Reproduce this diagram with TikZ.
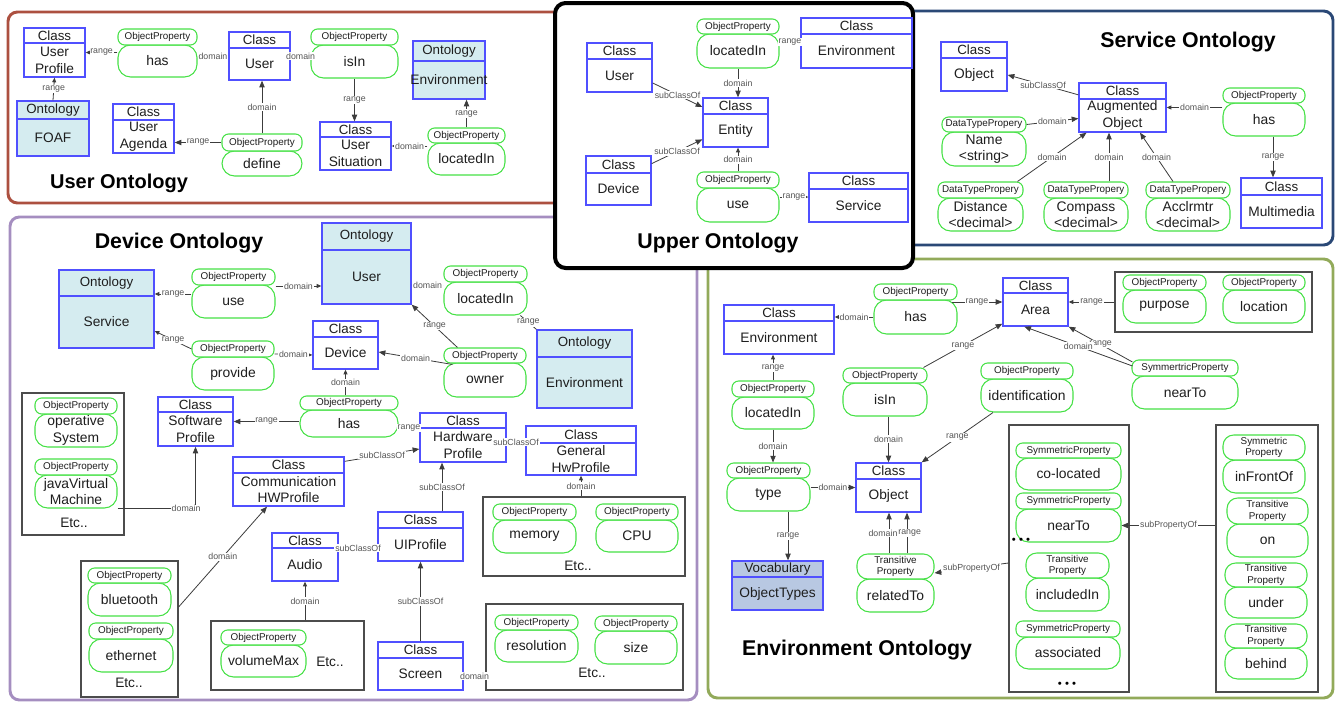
\documentclass[tikz,border=0pt]{standalone}
\usepackage{fontspec}
\setmainfont{Liberation Sans}
\usetikzlibrary{arrows.meta,fit,calc}
\definecolor{clsblue}{RGB}{80,80,255}
\definecolor{pgreen}{RGB}{70,225,70}
\definecolor{ontfill}{RGB}{213,236,240}
\definecolor{vocfill}{RGB}{184,200,226}
\definecolor{userfr}{RGB}{172,80,64}
\definecolor{servfr}{RGB}{42,72,118}
\definecolor{devfr}{RGB}{165,142,192}
\definecolor{envfr}{RGB}{146,170,90}
\definecolor{edgec}{RGB}{60,60,60}
\definecolor{lblc}{RGB}{85,85,85}
\definecolor{txtc}{RGB}{30,30,30}
\tikzset{
 frame/.style={line width=2.2pt, rounded corners=7pt},
 clsbox/.style={draw=clsblue, line width=1pt, fill=white, inner sep=0pt},
 ontbox/.style={clsbox, fill=ontfill},
 vocbox/.style={clsbox, fill=vocfill},
 clsline/.style={draw=clsblue, line width=1pt},
 hdtxt/.style={font=\fontsize{10}{11}\selectfont, text=txtc, inner sep=0pt},
 bdtxt/.style={font=\fontsize{10.3}{12.6}\selectfont, text=txtc, align=center, inner sep=0pt},
 pillh/.style={draw=pgreen, line width=0.8pt, fill=white, inner sep=0pt, rounded corners=5pt},
 pillb/.style={draw=pgreen, line width=0.8pt, fill=white, inner sep=0pt, rounded corners=9.5pt},
 phtxt/.style={font=\fontsize{7.4}{8.4}\selectfont, text=txtc, align=center, inner sep=0pt},
 pbtxt/.style={font=\fontsize{10.4}{12.4}\selectfont, text=txtc, align=center, inner sep=0pt},
 grpbox/.style={draw=black!70, line width=0.9pt, inner sep=0pt},
 etc/.style={font=\fontsize{10.3}{12}\selectfont, text=txtc},
 dotsn/.style={font=\fontsize{8.5}{8.5}\selectfont, text=black},
 title/.style={font=\fontsize{16}{18}\selectfont\bfseries, text=black},
 edge/.style={draw=edgec, line width=0.6pt},
 arr/.style={-{Triangle[length=5pt,width=4pt]}},
 sarr/.style={-{Triangle[length=3.5pt,width=3pt]}},
 lbl/.style={font=\fontsize{6.6}{7}\selectfont, text=lblc, fill=white, inner sep=0.6pt},
}
% class box: [style]{name}{x1}{y1}{x2}{y2}{header height}{header}{body}
\newcommand{\cls}[9][clsbox]{%
  \node[#1,fit={(#3,#4)(#5,#6)}] (#2) {};
  \draw[clsline] (#3,#4+#7) -- (#5,#4+#7);
  \node[hdtxt] (#2h) at ({(#3+#5)/2},{#4+#7/2}) {#8};
  \node[bdtxt] (#2t) at ({(#3+#5)/2},{(#4+#7+#6)/2}) {#9};
}
% property: [header style]{name}{x1}{x2}{yh1}{yh2}{yb2}{header}{body}
\newcommand{\prop}[9][]{%
  \node[pillb,fit={(#3,#6)(#4,#7)}] (#2) {};
  \node[pbtxt] (#2t) at ({(#3+#4)/2},{(#6+#7)/2}) {#9};
  \node[pillh,#1,fit={(#3,#5)(#4,#6)}] (#2h) {};
  \node[phtxt] (#2ht) at ({(#3+#4)/2},{(#5+#6)/2}) {#8};
}
\begin{document}
\begin{tikzpicture}[x=0.75pt,y=-0.75pt]
\useasboundingbox (0,0) rectangle (1341,703);
% ---------- frames
\draw[frame,userfr] (8,12) rectangle (580,203);
\draw[frame,servfr] (890,11) rectangle (1333,245);
\draw[frame,devfr] (10,217) rectangle (697,700);
\draw[frame,envfr] (708,259) rectangle (1333,698);
\draw[frame,line width=3pt,black,fill=white,rounded corners=8pt] (555,3) rectangle (913,268);

% ---------- User Ontology
\cls{uProf}{24}{28}{85}{77}{15}{Class}{User\\Profile}
\cls[ontbox]{uFoaf}{17}{101}{89}{156}{18}{Ontology}{FOAF}
\prop{uHas}{118}{197}{29}{45}{77}{ObjectProperty}{has}
\cls{uUser}{229}{32}{290}{80}{16}{Class}{User}
\prop{uIsIn}{311}{398}{29}{45}{78}{ObjectProperty}{isIn}
\cls{uSit}{320}{122}{391}{170}{15}{Class}{User\\Situation}
\cls{uAgenda}{113}{104}{174}{153}{16}{Class}{User\\Agenda}
\prop{uDefine}{222}{302}{134}{151}{176}{ObjectProperty}{define}
\cls[ontbox]{uEnv}{413}{41}{485}{99}{20}{Ontology}{Environment}
\prop{uLoc}{428}{505}{128}{143}{175}{ObjectProperty}{locatedIn}
\node[title,font=\fontsize{15}{17}\selectfont\bfseries] (uTitle) at (119,183) {User Ontology};

% ---------- Upper Ontology
\cls{pUser}{587}{43}{652}{92}{16}{Class}{User}
\cls{pDev}{586}{156}{651}{205}{17}{Class}{Device}
\cls{pEnt}{703}{98}{768}{147}{16}{Class}{Entity}
\prop{pLoc}{697}{779}{19}{34}{68}{ObjectProperty}{locatedIn}
\cls{pEnv}{801}{18}{912}{68}{16}{Class}{Environment}
\prop{pUse}{697}{779}{172}{188}{222}{ObjectProperty}{use}
\cls{pServ}{809}{173}{908}{222}{16}{Class}{Service}
\node[title] (pTitle) at (718,243) {Upper Ontology};

% ---------- Service Ontology
\node[title] (sTitle) at (1188,42) {Service Ontology};
\cls{sObj}{941}{42}{1007}{91}{16}{Class}{Object}
\cls{sAug}{1079}{83}{1166}{132}{16}{Class}{Augmented\\Object}
\prop{sHas}{1223}{1305}{88}{103}{136}{ObjectProperty}{has}
\cls{sMM}{1241}{178}{1322}{228}{17}{Class}{Multimedia}
\prop{sName}{942}{1026}{117}{132}{166}{DataTypePropery}{Name\\<string>}
\prop{sDist}{938}{1023}{182}{198}{231}{DataTypePropery}{Distance\\<decimal>}
\prop{sComp}{1044}{1128}{182}{198}{231}{DataTypePropery}{Compass\\<decimal>}
\prop{sAcc}{1146}{1230}{182}{198}{231}{DataTypePropery}{Acclrmtr\\<decimal>}

% ---------- Device Ontology
\node[title] (dTitle) at (179,243) {Device Ontology};
\cls[ontbox]{dServ}{59}{270}{154}{348}{26}{Ontology}{Service}
\cls[ontbox]{dUser}{322}{223}{411}{304}{27}{Ontology}{User}
\prop{dUse}{192}{275}{269}{285}{318}{ObjectProperty}{use}
\prop{dProv}{192}{274}{341}{357}{390}{ObjectProperty}{provide}
\cls{dDev}{313}{321}{378}{369}{16}{Class}{Device}
\prop{dHas}{300}{398}{396}{410}{437}{ObjectProperty}{has}
\cls{dSoft}{158}{397}{233}{446}{15}{Class}{Software\\Profile}
\prop{dLoc}{444}{527}{266}{282}{315}{ObjectProperty}{locatedIn}
\cls[ontbox]{dEnv}{537}{330}{632}{408}{27}{Ontology}{Environment}
\prop{dOwn}{444}{526}{348}{363}{397}{ObjectProperty}{owner}
\cls{dHw}{420}{413}{506}{462}{15}{Class}{Hardware\\Profile}
\cls{dGen}{526}{426}{636}{475}{17}{Class}{General\\HwProfile}
\cls{dComm}{233}{457}{344}{506}{16}{Class}{Communication\\HWProfile}
\node[grpbox,fit={(22,393)(124,535)}] (dBoxSw) {};
\prop{dOS}{35}{117}{398}{414}{447}{ObjectProperty}{operative\\System}
\prop{dJVM}{35}{117}{459}{475}{508}{ObjectProperty}{javaVirtual\\Machine}
\node[etc] (dEtc1) at (74,523) {Etc..};
\node[grpbox,fit={(81,561)(178,697)}] (dBoxCom) {};
\prop{dBt}{88}{171}{568}{583}{616}{ObjectProperty}{bluetooth}
\prop{dEth}{89}{173}{623}{639}{672}{ObjectProperty}{ethernet}
\node[etc] (dEtc2) at (129,683) {Etc..};
\cls{dAudio}{272}{533}{338}{581}{15}{Class}{Audio}
\node[grpbox,fit={(211,621)(364,690)}] (dBoxAud) {};
\prop{dVol}{221}{306}{630}{645}{677}{ObjectProperty}{volumeMax}
\node[etc] (dEtc3) at (330,662) {Etc..};
\cls{dUI}{378}{512}{463}{561}{16}{Class}{UIProfile}
\cls{dScr}{378}{642}{463}{690}{16}{Class}{Screen}
\node[grpbox,fit={(483,497)(685,576)}] (dBoxHw) {};
\prop{dMem}{493}{576}{504}{520}{553}{ObjectProperty}{memory}
\prop{dCpu}{596}{678}{504}{520}{552}{ObjectProperty}{CPU}
\node[etc] (dEtc4) at (578,566) {Etc..};
\node[grpbox,fit={(486,604)(683,690)}] (dBoxScr) {};
\prop{dRes}{495}{578}{615}{630}{662}{ObjectProperty}{resolution}
\prop{dSize}{595}{677}{616}{631}{664}{ObjectProperty}{size}
\node[etc] (dEtc5) at (592,673) {Etc..};

% ---------- Environment Ontology
\node[title] (eTitle) at (857,650) {Environment Ontology};
\cls{eEnv}{724}{305}{834}{354}{16}{Class}{Environment}
\prop{eHas}{874}{957}{284}{300}{334}{ObjectProperty}{has}
\cls{eArea}{1003}{278}{1068}{326}{15}{Class}{Area}
\node[grpbox,fit={(1115,272)(1312,332)}] (eBoxPL) {};
\prop{ePurp}{1123}{1206}{275}{290}{323}{ObjectProperty}{purpose}
\prop{eLoc2}{1223}{1305}{275}{290}{323}{ObjectProperty}{location}
\prop{eNear}{1132}{1238}{360}{376}{409}{SymmertricProperty}{nearTo}
\prop{eLocIn}{732}{814}{381}{397}{429}{ObjectProperty}{locatedIn}
\prop{eIsIn}{843}{927}{368}{383}{416}{ObjectProperty}{isIn}
\prop{eIdent}{981}{1073}{363}{379}{412}{ObjectProperty}{identification}
\prop{eType}{727}{810}{463}{478}{511}{ObjectProperty}{type}
\cls{eObj}{856}{463}{921}{512}{16}{Class}{Object}
\cls[vocbox]{eVoc}{732}{561}{823}{610}{16}{Vocabulary}{ObjectTypes}
\prop[rounded corners=8pt]{eRel}{857}{934}{554}{579}{612}{Transitive\\Property}{relatedTo}
\node[grpbox,fit={(1009,425)(1129,692)}] (eBoxL) {};
\prop{eCoLoc}{1016}{1121}{443}{458}{490}{SymmetricProperty}{co-located}
\prop{eNear2}{1016}{1121}{493}{509}{542}{SymmetricProperty}{nearTo}
\prop[rounded corners=8pt]{eIncl}{1026}{1109}{553}{578}{611}{Transitive\\Property}{includedIn}
\prop{eAssoc}{1016}{1120}{621}{637}{669}{SymmetricProperty}{associated}
\node[dotsn] (eDots1) at (1021,541) {\textbullet\ \textbullet\ \textbullet};
\node[dotsn] (eDots2) at (1067,685) {\textbullet\ \textbullet\ \textbullet};
\node[grpbox,fit={(1216,425)(1318,692)}] (eBoxR) {};
\prop[rounded corners=8pt]{eFront}{1223}{1305}{435}{460}{493}{Symmetric\\Property}{inFrontOf}
\prop[rounded corners=8pt]{eOn}{1227}{1308}{498}{524}{557}{Transitive\\Property}{on}
\prop[rounded corners=8pt]{eUnder}{1225}{1307}{563}{587}{618}{Transitive\\Property}{under}
\prop[rounded corners=8pt]{eBehind}{1225}{1307}{624}{648}{679}{Transitive\\Property}{behind}

% ================= connectors
% User
\draw[edge,sarr] (uFoaf.north) -- node[lbl]{range} (uProf.south);
\draw[edge,sarr] (uHas.west |- uProf.east) -- node[lbl]{range} (uProf.east);
\draw[edge] (uHas.east |- uUser.west) -- node[lbl]{domain} (uUser.west);
\draw[edge] (uUser.east) -- node[lbl]{domain} (uIsIn.west |- uUser.east);
\draw[edge,arr] (uIsIn.south) -- node[lbl]{range} (uIsIn.south |- uSit.north);
\draw[edge,arr] (uDefineh.north) -- node[lbl]{domain} (uDefineh.north |- uUser.south);
\draw[edge,arr] (uDefineh.west) -- node[lbl]{range} (uDefineh.west -| uAgenda.east);
\draw[edge,arr] (uLoch.north) -- node[lbl]{range} (uLoch.north |- uEnv.south);
\draw[edge,sarr] (uLoc.west |- uSit.east) -- node[lbl]{domain} (uSit.east);
% Upper
\draw[edge,arr] (pUser.-25) -- node[lbl]{subClassOf} (pEnt.155);
\draw[edge,arr] (pDev.27) -- node[lbl]{subClassOf} (pEnt.207);
\draw[edge,arr] (pLoc.south) -- node[lbl]{domain} (pLoc.south |- pEnt.north);
\draw[edge] ($(pLoc.east)+(0,-9)$) -- node[lbl]{range} ($(pEnv.west)+(0,-1)$);
\draw[edge,sarr] (pUseh.north) -- node[lbl]{domain} (pUseh.north |- pEnt.south);
\draw[edge,sarr] ($(pUse.east)+(0,-8)$) -- node[lbl]{range} ($(pServ.west)+(0,-0.5)$);
% Service
\draw[edge,arr] (sAug.164) -- node[lbl]{subClassOf} (sObj.-14);
\draw[edge,sarr] (sHas.west |- sAug.east) -- node[lbl]{domain} (sAug.east);
\draw[edge,arr] ($(sHas.south)+(9,0)$) -- node[lbl]{range} ($(sMM.north)+(-8.5,0)$);
\draw[edge,arr] (sNameh.east) -- node[lbl]{domain} (sAug.194);
\draw[edge,arr] ($(sDisth.north)+(37,0)$) -- node[lbl]{domain} (sAug.215);
\draw[edge,arr] ($(sComph.north)+(23,0)$) -- node[lbl]{domain} ($(sAug.south)+(-13.5,0)$);
\draw[edge,arr] ($(sAcch.north)+(-15,0)$) -- node[lbl]{domain} ($(sAug.south)+(17.5,0)$);
% Device
\draw[edge,sarr] ($(dUse.west)+(0,-7.5)$) -- node[lbl]{range} ($(dServ.east)+(0,-15)$);
\draw[edge,sarr] ($(dUse.east)+(0,-15.5)$) -- node[lbl]{domain} ($(dUser.west)+(0,22.5)$);
\draw[edge,sarr] (dProvh.west) -- node[lbl]{range} ($(dServ.east)+(0,22)$);
\draw[edge,sarr] ($(dProvh.east)+(0,5)$) -- node[lbl]{domain} ($(dDev.west)+(0,10)$);
\draw[edge,sarr] (dHash.north -| dDev.south) -- node[lbl]{domain} (dDev.south);
\draw[edge,arr] (dHas.west |- dSoft.east) -- node[lbl]{range} (dSoft.east);
\draw[edge,sarr] ($(dLoc.west)+(0,-13.5)$) -- node[lbl]{domain} ($(dUser.east)+(0,21.5)$);
\draw[edge] (dLoc.-26) -- node[lbl]{range} (dEnv.north west);
\draw[edge,arr] ($(dOwnh.north west)+(14,0)$) -- node[lbl]{range} (dUser.south east);
\draw[edge,arr] ($(dOwn.north west)+(9,2)$) -- node[lbl]{domain} ($(dDev.east)+(0,7)$);
\draw[edge] ($(dHas.east)+(0,4.5)$) -- node[lbl]{range} ($(dHw.west)+(0,-9.5)$);
\draw[edge] ($(dGen.west)+(0,-8.5)$) -- node[lbl]{subClassOf} ($(dHw.east)+(0,4.5)$);
\draw[edge,arr] ($(dComm.north east)+(0,5)$) -- node[lbl]{subClassOf} ($(dHw.west)+(0,11.5)$);
\draw[edge,arr] (dJVM.south east) -- node[lbl,pos=0.88]{domain} (dJVM.south east -| dSoft.south) -- (dSoft.south);
\draw[edge,arr] ($(dBoxCom.east)+(0,-22)$) -- node[lbl]{domain} ($(dComm.south)+(-21.5,0)$);
\draw[edge] ($(dAudio.east)+(0,-9)$) -- node[lbl]{subClassOf} ($(dUI.west)+(0,11.5)$);
\draw[edge,sarr] (dAudio.south |- dBoxAud.north) -- node[lbl]{domain} (dAudio.south);
\draw[edge,arr] ($(dUI.north)+(21.5,0)$) -- node[lbl]{subClassOf} ($(dHw.south)+(-21,0)$);
\draw[edge,arr] (dScr.north) -- node[lbl]{subClassOf} (dUI.south);
\draw[edge] ($(dScr.east)+(0,10)$) -- node[lbl]{domain} ($(dBoxScr.west)+(0,29)$);
\draw[edge,sarr] (dGen.south |- dBoxHw.north) -- node[lbl]{domain} (dGen.south);
% Environment
\draw[edge,sarr] (eHas.west) -- node[lbl]{domain} (eHas.west -| eEnv.east);
\draw[edge,arr] ($(eHas.east)+(-6,-15)$) -- node[lbl]{range} (eArea.west);
\draw[edge,sarr] (eBoxPL.west) -- node[lbl]{range} (eArea.east);
\draw[edge,arr] ($(eNearh.west)+(1,-6)$) -- node[lbl]{range} (eArea.south east);
\draw[edge,arr] ($(eNearh.west)+(1,-2)$) -- node[lbl]{domain} ($(eArea.south west)+(22,0)$);
\draw[edge,sarr] (eLocInh.north) -- node[lbl]{range} (eLocInh.north |- eEnv.south);
\draw[edge,arr] (eLocIn.south) -- node[lbl]{domain} (eLocIn.south |- eTypeh.north);
\draw[edge,arr] ($(eIsInh.north east)+(-4,0)$) -- node[lbl]{range} ($(eArea.south west)+(0,-3)$);
\draw[edge,arr] (eObj.north |- eIsIn.south) -- node[lbl]{domain} (eObj.north);
\draw[edge,arr] ($(eIdent.south)+(-34,0)$) -- node[lbl]{range} (eObj.north east);
\draw[edge,arr] (eType.east |- eObj.west) -- node[lbl]{domain} (eObj.west);
\draw[edge,arr] ($(eType.south)+(19.5,0)$) -- node[lbl]{range} ($(eVoc.north)+(10.5,0)$);
\draw[edge,arr] ($(eRelh.north)+(-6.5,0)$) -- node[lbl,xshift=-4.5pt]{domain} ($(eObj.south)+(0.5,0)$);
\draw[edge,arr] ($(eRelh.north)+(11.5,0)$) -- node[lbl,xshift=2pt]{range} ($(eObj.south)+(18.5,0)$);
\draw[edge,arr] ($(eBoxL.west)+(0,4.5)$) -- node[lbl]{subPropertyOf} ($(eRelh.east)+(0,6.5)$);
\draw[edge,arr] (eBoxR.west |- eNear2.east) -- node[lbl]{subPropertyOf} (eNear2.east);
\end{tikzpicture}
\end{document}
